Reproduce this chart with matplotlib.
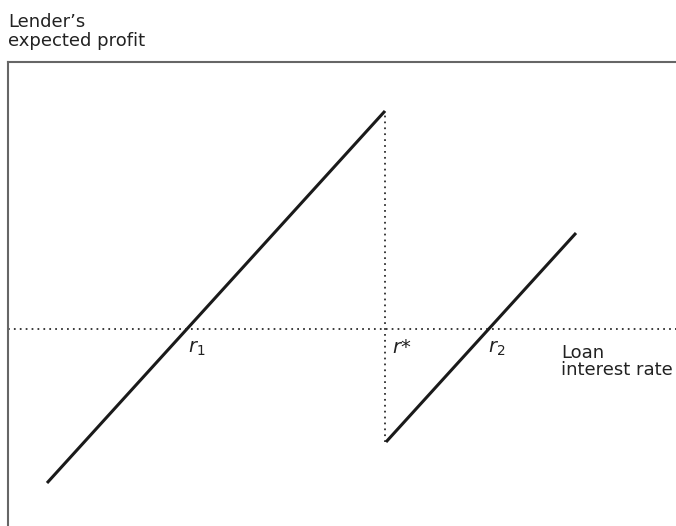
import matplotlib
matplotlib.use('Agg')
import matplotlib.pyplot as plt

plt.rcParams['font.family'] = ['DejaVu Sans']

# interest rate (x) and expected profit (y)
rate_low = [39, 377]
profit_low = [-154, 218]
rate_high = [378, 568]
profit_high = [-113, 96]
r_star = 377
r_labels = ['$r_1$', '$r$*', '$r_2$']
r_label_x = [180, 384, 480]

W, H = 676, 526


def fig_text(px, py, s, **kw):
    # place text by pixel position of its baseline
    fig.text(px / W, 1 - py / H, s, ha='left', va='baseline', color='#222222', **kw)


fig = plt.figure(figsize=(6.76, 5.26), dpi=100)
ax = fig.add_axes([8 / W, 0, 668 / W, 464 / H])
ax.set_xlim(0, 668)
ax.set_ylim(-197, 267)

ax.plot(rate_low, profit_low, color='#1a1a1a', lw=2.2, solid_capstyle='butt')
ax.plot(rate_high, profit_high, color='#1a1a1a', lw=2.2, solid_capstyle='butt')

# dotted guide lines
dots = (0, (1, 2.4))
ax.axhline(0, color='#222222', lw=1.25, ls=dots)
ax.plot([r_star, r_star], [profit_high[0], profit_low[1]],
        color='#222222', lw=1.25, ls=dots)

for lab, x in zip(r_labels, r_label_x):
    ax.text(x, -24, lab, fontsize=14, ha='left', va='baseline', color='#222222')

ax.set_xticks([])
ax.set_yticks([])
for side in ['bottom', 'right']:
    ax.spines[side].set_visible(False)
for side in ['left', 'top']:
    ax.spines[side].set_color('#666666')
    ax.spines[side].set_linewidth(1.5)

fig_text(8, 27, "Lender\u2019s", fontsize=13)
fig_text(8, 46, "expected profit", fontsize=13)
fig_text(561, 358, "Loan", fontsize=13)
fig_text(561, 375, "interest rate", fontsize=13)

fig.savefig('out.png', dpi=100)
